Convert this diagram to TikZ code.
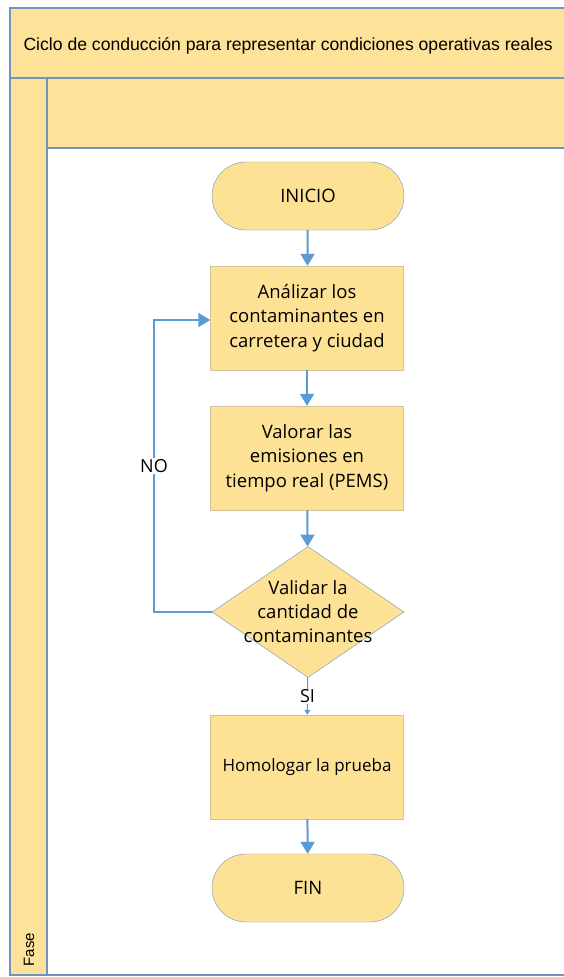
\documentclass[tikz,border=0pt]{standalone}
\usepackage{fontspec}
\setmainfont{Open Sans}
\newfontfamily\headfont{Liberation Sans}
\usetikzlibrary{shapes.geometric,arrows.meta}
\definecolor{lanefill}{HTML}{FDE29A}
\definecolor{laneline}{HTML}{7393BC}
\definecolor{flowblue}{HTML}{5B9BD5}
\definecolor{boxfill}{HTML}{FDE295}
\definecolor{boxline}{HTML}{D2C39A}
\begin{document}
\begin{tikzpicture}[x=1pt,y=-1pt,
  lane/.style={draw=laneline, fill=lanefill, line width=1.2pt},
  proc/.style={draw=boxline, fill=boxfill, minimum width=193pt, minimum height=104pt, align=center, inner sep=0pt, font=\fontsize{18.5}{24.5}\selectfont},
  term/.style={draw=laneline, fill=boxfill, rounded corners=34pt, minimum width=192pt, minimum height=68pt, font=\fontsize{18.5}{22}\selectfont},
  dec/.style={diamond, draw=laneline, fill=boxfill, minimum width=192pt, minimum height=131pt, inner sep=0pt},
  flow/.style={draw=flowblue, line width=2pt, -{Triangle[width=14pt,length=12pt]}},
  thin flow/.style={draw=flowblue, line width=1pt, -{Triangle[width=6pt,length=5pt]}},
  lbl/.style={fill=white, inner sep=1pt, font=\fontsize{18}{20}\selectfont}]
\useasboundingbox (0,0) rectangle (563,977);
% pool and lanes
\draw[lane] (10,8) rectangle (575,78);
\draw[lane] (10,78) rectangle (47,975);
\draw[lane] (47,78) rectangle (575,148);
\draw[laneline, line width=1.2pt, fill=white] (47,148) rectangle (575,975);
\node[font=\headfont\fontsize{17.6}{20}\selectfont, anchor=west] (titulo) at (20,46) {Ciclo de conducción para representar condiciones operativas reales};
\node[font=\headfont\fontsize{15}{17}\selectfont, rotate=90, anchor=west] (fase) at (29,970) {Fase};
% flow
\node[term] (inicio) at (308,196) {INICIO};
\node[proc] (analizar) at (307,318) {Análizar los\\contaminantes en\\carretera y ciudad};
\node[proc] (valorar) at (307,458) {Valorar las\\emisiones en\\tiempo real (PEMS)};
\node[dec] (validar) at (308,612) {};
\node[align=center, font=\fontsize{18.5}{24}\selectfont] (validartxt) at (308,612) {Validar la\\cantidad de\\contaminantes};
\node[proc, font=\fontsize{17}{20}\selectfont] (homologar) at (307,767) {Homologar la prueba};
\node[term] (fin) at (308,888) {FIN};
\coordinate (noabajo) at (154,612);
\coordinate (noarriba) at (154,320);
\draw[flow] (inicio) -- (analizar);
\draw[flow] (analizar) -- (valorar);
\draw[flow] (valorar) -- (validar);
\draw[flow] (validar.west) -- (noabajo) -- node[lbl, pos=0.5] (no) {NO} (noarriba) -- (analizar.west |- noarriba);
\draw[thin flow] (validar) -- node[lbl] (si) {SI} (homologar);
\draw[flow] (homologar) -- (fin);
\end{tikzpicture}
\end{document}
